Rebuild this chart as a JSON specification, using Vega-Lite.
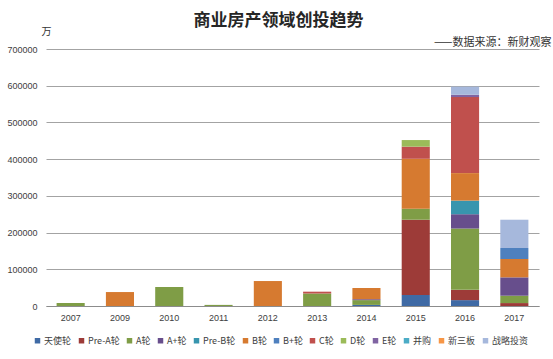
{
  "$schema": "https://vega.github.io/schema/vega-lite/v6.json",
  "autosize": {"type": "none"},
  "padding": {"left": 46, "top": 49, "right": 14, "bottom": 53},
  "width": 493,
  "height": 257,
  "background": "white",
  "title": {
    "text": "商业房产领域创投趋势",
    "fontSize": 17,
    "fontWeight": "bold",
    "font": "Noto Sans CJK SC",
    "color": "#262626",
    "anchor": "middle",
    "dx": -14,
    "offset": 0,
    "dy": 4
  },
  "config": {
    "view": {"stroke": null},
    "font": "Noto Sans CJK SC"
  },
  "data": {
    "values": [
      {"year": "2007", "round": "A轮", "value": 8000},
      {"year": "2009", "round": "B轮", "value": 38000},
      {"year": "2010", "round": "A轮", "value": 52000},
      {"year": "2011", "round": "A轮", "value": 3000},
      {"year": "2012", "round": "B轮", "value": 68000},
      {"year": "2013", "round": "A轮", "value": 34000},
      {"year": "2013", "round": "C轮", "value": 5000},
      {"year": "2014", "round": "天使轮", "value": 3000},
      {"year": "2014", "round": "A轮", "value": 13000},
      {"year": "2014", "round": "A+轮", "value": 2500},
      {"year": "2014", "round": "B轮", "value": 30500},
      {"year": "2015", "round": "天使轮", "value": 30000},
      {"year": "2015", "round": "Pre-A轮", "value": 205000},
      {"year": "2015", "round": "A轮", "value": 30000},
      {"year": "2015", "round": "B轮", "value": 136000},
      {"year": "2015", "round": "C轮", "value": 33000},
      {"year": "2015", "round": "D轮", "value": 18000},
      {"year": "2016", "round": "天使轮", "value": 16000},
      {"year": "2016", "round": "Pre-A轮", "value": 28000},
      {"year": "2016", "round": "A轮", "value": 167000},
      {"year": "2016", "round": "A+轮", "value": 39000},
      {"year": "2016", "round": "Pre-B轮", "value": 37000},
      {"year": "2016", "round": "B轮", "value": 75000},
      {"year": "2016", "round": "C轮", "value": 207000},
      {"year": "2016", "round": "E轮", "value": 6500},
      {"year": "2016", "round": "战略投资", "value": 22000},
      {"year": "2017", "round": "Pre-A轮", "value": 8000},
      {"year": "2017", "round": "A轮", "value": 20000},
      {"year": "2017", "round": "A+轮", "value": 50000},
      {"year": "2017", "round": "B轮", "value": 50000},
      {"year": "2017", "round": "B+轮", "value": 30000},
      {"year": "2017", "round": "战略投资", "value": 77000}
    ]
  },
  "transform": [
    {"calculate": "indexof(['天使轮','Pre-A轮','A轮','A+轮','Pre-B轮','B轮','B+轮','C轮','D轮','E轮','并购','新三板','战略投资'], datum.round)", "as": "stackOrder"}
  ],
  "mark": {"type": "bar"},
  "encoding": {
    "x": {
      "field": "year",
      "type": "ordinal",
      "scale": {"paddingInner": 0.43, "paddingOuter": 0.215},
      "axis": {
        "title": "——数据来源：新财观察",
        "titleX": 505,
        "titleY": -264,
        "titleAlign": "right",
        "titleBaseline": "middle",
        "titleFontSize": 11,
        "titleFontWeight": "normal",
        "titleColor": "#333333",
        "labelAngle": 0,
        "labelFontSize": 9,
        "labelColor": "#404040",
        "labelFont": "Liberation Sans",
        "labelPadding": 7,
        "ticks": false,
        "domainColor": "#8C8C8C",
        "domainWidth": 1
      }
    },
    "y": {
      "field": "value",
      "type": "quantitative",
      "stack": "zero",
      "scale": {"domain": [0, 700000], "nice": false},
      "axis": {
        "values": [0, 100000, 200000, 300000, 400000, 500000, 600000, 700000],
        "format": "d",
        "title": "万",
        "titleAngle": 0,
        "titleX": 0,
        "titleY": -18,
        "titleAlign": "center",
        "titleBaseline": "middle",
        "titleFontSize": 10,
        "titleFontWeight": "normal",
        "titleColor": "#333333",
        "labelFontSize": 9,
        "labelColor": "#404040",
        "labelFont": "Liberation Sans",
        "labelPadding": 9,
        "ticks": false,
        "domain": false,
        "grid": true,
        "gridColor": "#8C8C8C",
        "gridWidth": 0.8
      }
    },
    "order": {"field": "stackOrder", "type": "quantitative", "sort": "ascending"},
    "color": {
      "field": "round",
      "type": "nominal",
      "scale": {
        "domain": ["天使轮", "Pre-A轮", "A轮", "A+轮", "Pre-B轮", "B轮", "B+轮", "C轮", "D轮", "E轮", "并购", "新三板", "战略投资"],
        "range": ["#3F6AA5", "#9D3B38", "#7F9D46", "#674E8C", "#3795AE", "#D67A30", "#4E80BE", "#C0504D", "#9BBB59", "#8064A2", "#4BACC6", "#F79646", "#A6B8DC"]
      },
      "legend": {
        "orient": "none",
        "direction": "horizontal",
        "legendX": -13,
        "legendY": 287,
        "title": null,
        "symbolType": "square",
        "symbolSize": 30,
        "symbolStrokeWidth": 0,
        "labelFontSize": 9,
        "labelColor": "#404040",
        "labelOffset": 2,
        "columnPadding": 5
      }
    }
  }
}
